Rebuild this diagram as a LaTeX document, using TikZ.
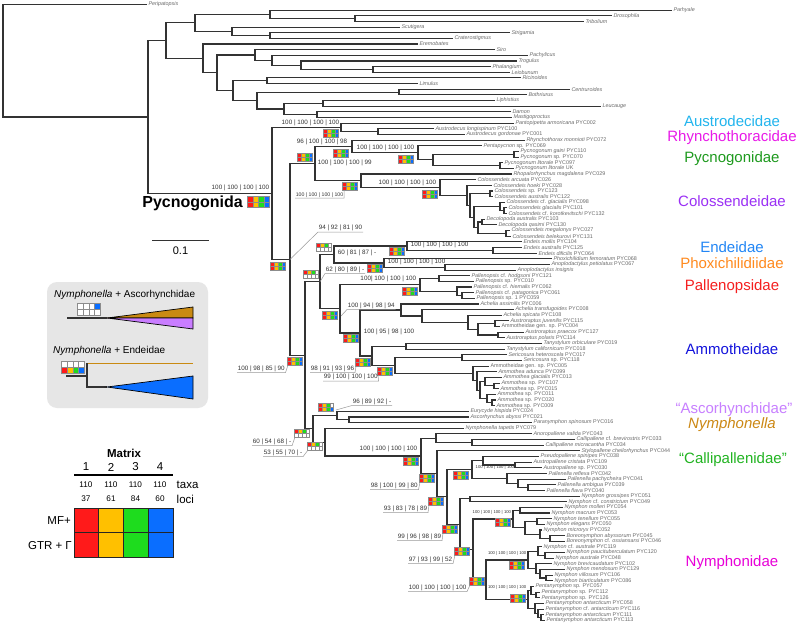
\documentclass[tikz,border=0pt]{standalone}
\usepackage{fontspec}
\setmainfont{Liberation Sans}
\usetikzlibrary{calc}
\definecolor{cR}{HTML}{FF1A1A}
\definecolor{cY}{HTML}{FFC000}
\definecolor{cG}{HTML}{1EDC1E}
\definecolor{cB}{HTML}{0A6EFF}
\definecolor{cW}{HTML}{FFFFFF}
\definecolor{tipgray}{HTML}{6A6A6A}
\definecolor{panelgray}{HTML}{E6E6E6}
\definecolor{nyor}{HTML}{C98A12}
\definecolor{ascp}{HTML}{C97DFF}
\definecolor{fAus}{HTML}{22B5EE}
\definecolor{fRhy}{HTML}{E81BE8}
\definecolor{fPyc}{HTML}{1E9A1E}
\definecolor{fCol}{HTML}{9B30F5}
\definecolor{fEnd}{HTML}{2286F5}
\definecolor{fPho}{HTML}{FF8A1E}
\definecolor{fPal}{HTML}{F52020}
\definecolor{fAmm}{HTML}{1414DC}
\definecolor{fAsc}{HTML}{C880FF}
\definecolor{fNyl}{HTML}{CC8814}
\definecolor{fCal}{HTML}{22B422}
\definecolor{fNym}{HTML}{E800D8}
\tikzset{
 br/.style={draw=black!80, line width=1.1pt},
 tiplab/.style={anchor=west, inner xsep=1.3pt, inner ysep=0pt, text=tipgray, font=\fontsize{5.4}{5.6}\selectfont},
 svt/.style={inner sep=0.6pt, text=black!80, font=\fontsize{6.3}{7}\selectfont},
 svm/.style={inner sep=0.6pt, text=black!80, font=\fontsize{5.2}{6}\selectfont},
 svs/.style={inner sep=0.5pt, text=black!80, font=\fontsize{4.2}{5}\selectfont},
 lead/.style={draw=black!40, line width=0.5pt},
 boxline/.style={draw=black!45, line width=0.3pt},
 fam/.style={font=\fontsize{15}{17}\selectfont, inner sep=0pt},
 legt/.style={font=\fontsize{11.5}{13}\selectfont, inner sep=0pt},
}
\newcommand\tp[4]{\coordinate (#1) at (#3,{4.5+5.65*#2}); \node[tiplab] (L#1) at (#1) {#4};}
\newcommand\nd[4]{\coordinate (m#1) at ($(#3)!.5!(#4)$); \coordinate (#1) at (#2,0 |- m#1); \draw[br] (#3) -| (#1) |- (#4);}
\def\bxs{1}
\newcommand\cbx[9]{\begin{scope}[shift={(#1)},scale=\bxs]
\fill[#2] (0,0) rectangle (3.9,3.9); \fill[#3] (3.9,0) rectangle (7.8,3.9);
\fill[#4] (7.8,0) rectangle (11.7,3.9); \fill[#5] (11.7,0) rectangle (15.6,3.9);
\fill[#6] (0,3.9) rectangle (3.9,7.8); \fill[#7] (3.9,3.9) rectangle (7.8,7.8);
\fill[#8] (7.8,3.9) rectangle (11.7,7.8); \fill[#9] (11.7,3.9) rectangle (15.6,7.8);
\draw[boxline] (0,0) rectangle (15.6,7.8) (3.9,0)--(3.9,7.8) (7.8,0)--(7.8,7.8) (11.7,0)--(11.7,7.8) (0,3.9)--(15.6,3.9);
\end{scope}}
\newcommand\fb[1]{\cbx{#1}{cR}{cY}{cG}{cB}{cR}{cY}{cG}{cB}}
\newcommand\pb[1]{\cbx{#1}{cR}{cY}{cG}{cW}{cW}{cW}{cW}{cW}}
\begin{document}
\begin{tikzpicture}[x=1pt,y=-1pt]
\useasboundingbox (0,0) rectangle (800,623);
\fill[white] (0,0) rectangle (800,623);
% ---------- tips: outgroups
\tp{t0}{0}{147}{\textit{Peripatopsis}}
\tp{t1}{1}{672}{\textit{Parhyale}}
\tp{t2}{2}{612}{\textit{Drosophila}}
\tp{t3}{3}{584}{\textit{Tribolium}}
\tp{t4}{4}{400}{\textit{Scutigera}}
\tp{t5}{5}{510}{\textit{Strigamia}}
\tp{t6}{6}{453}{\textit{Craterostigmus}}
\tp{t7}{7}{418}{\textit{Eremobates}}
\tp{t8}{8}{495}{\textit{Siro}}
\tp{t9}{9}{528}{\textit{Pachylicus}}
\tp{t10}{10}{517}{\textit{Trogulus}}
\tp{t11}{11}{491}{\textit{Phalangium}}
\tp{t12}{12}{510}{\textit{Leiobunum}}
\tp{t13}{13}{521}{\textit{Ricinoides}}
\tp{t14}{14}{418}{\textit{Limulus}}
\tp{t15}{15}{570}{\textit{Centruroides}}
\tp{t16}{16}{527}{\textit{Bothriurus}}
\tp{t17}{17}{495}{\textit{Liphistius}}
\tp{t18}{18}{601}{\textit{Leucauge}}
\tp{t19}{19}{511}{\textit{Damon}}
\tp{t20}{20}{512}{\textit{Mastigoproctus}}
% ---------- tips: Pycnogonida
\tp{t21}{21}{514}{\textit{Pantopipetta armoricana} PYC002}
\tp{t22}{22}{434}{\textit{Austrodecus longispinum} PYC100}
\tp{t23}{23}{465}{\textit{Austrodecus gordonae} PYC001}
\tp{t24}{24}{525}{\textit{Rhynchothorax monnioti} PYC072}
\tp{t25}{25}{482}{\textit{Pentapycnon} sp. PYC069}
\tp{t26}{26}{519}{\textit{Pycnogonum gaini} PYC110}
\tp{t27}{27}{519}{\textit{Pycnogonum} sp. PYC070}
\tp{t28}{28}{503}{\textit{Pycnogonum litorale} PYC097}
\tp{t29}{29}{514}{\textit{Pycnogonum litorale} UK}
\tp{t30}{30}{512}{\textit{Rhopalorhynchus magdalena} PYC029}
\tp{t31}{31}{476}{\textit{Colossendeis arcuata} PYC026}
\tp{t32}{32}{492}{\textit{Colossendeis hoeki} PYC028}
\tp{t33}{33}{493}{\textit{Colossendeis} sp. PYC123}
\tp{t34}{34}{493}{\textit{Colossendeis australis} PYC122}
\tp{t35}{35}{505}{\textit{Colossendeis} cf. \textit{glacialis} PYC098}
\tp{t36}{36}{507}{\textit{Colossendeis glacialis} PYC101}
\tp{t37}{37}{507}{\textit{Colossendeis} cf. \textit{korotkevitschi} PYC132}
\tp{t38}{38}{485}{\textit{Decolopoda australis} PYC103}
\tp{t39}{39}{497}{\textit{Decolopoda qasimi} PYC130}
\tp{t40}{40}{510}{\textit{Colossendeis megalonyx} PYC027}
\tp{t41}{41}{511}{\textit{Colossendeis belekurovi} PYC131}
\tp{t42}{42}{522}{\textit{Endeis mollis} PYC104}
\tp{t43}{43}{522}{\textit{Endeis australis} PYC125}
\tp{t44}{44}{537}{\textit{Endeis dificilis} PYC064}
\tp{t45}{45}{552}{\textit{Phoxichilidium femoratum} PYC068}
\tp{t46}{46}{550}{\textit{Anoplodactylus petiolatus} PYC067}
\tp{t47}{47}{516}{\textit{Anoplodactylus insignis}}
\tp{t48}{48}{470}{\textit{Pallenopsis} cf. \textit{hodgsoni} PYC121}
\tp{t49}{49}{474}{\textit{Pallenopsis} sp. PYC010}
\tp{t50}{50}{472}{\textit{Pallenopsis} cf. \textit{hiemalis} PYC062}
\tp{t51}{51}{474}{\textit{Pallenopsis} cf. \textit{patagonica} PYC061}
\tp{t52}{52}{475}{\textit{Pallenopsis} sp. 1 PYC059}
\tp{t53}{53}{479}{\textit{Achelia assimilis} PYC006}
\tp{t54}{54}{514}{\textit{Achelia transfugoides} PYC008}
\tp{t55}{55}{502}{\textit{Achelia spicata} PYC108}
\tp{t56}{56}{509}{\textit{Austroraptus juvenilis} PYC115}
\tp{t57}{57}{500}{Ammotheidae gen. sp. PYC004}
\tp{t58}{58}{524}{\textit{Austroraptus praecox} PYC127}
\tp{t59}{59}{505}{\textit{Austroraptus polaris} PYC114}
\tp{t60}{60}{542}{\textit{Tanystylum orbiculare} PYC019}
\tp{t61}{61}{505}{\textit{Tanystylum californicum} PYC018}
\tp{t62}{62}{507}{\textit{Sericosura heteroscela} PYC017}
\tp{t63}{63}{522}{\textit{Sericosura} sp. PYC118}
\tp{t64}{64}{489}{Ammotheidae gen. sp. PYC005}
\tp{t65}{65}{497}{\textit{Ammothea adunca} PYC099}
\tp{t66}{66}{502}{\textit{Ammothea glacialis} PYC013}
\tp{t67}{67}{500}{\textit{Ammothea} sp. PYC107}
\tp{t68}{68}{499}{\textit{Ammothea} sp. PYC015}
\tp{t69}{69}{496}{\textit{Ammothea} sp. PYC011}
\tp{t70}{70}{496}{\textit{Ammothea} sp. PYC020}
\tp{t71}{71}{495}{\textit{Ammothea} sp. PYC009}
\tp{t72}{72}{469}{\textit{Eurycyde hispida} PYC024}
\tp{t73}{73}{469}{\textit{Ascorhynchus abyssi} PYC021}
\tp{t74}{74}{532}{\textit{Paranymphon spinosum} PYC016}
\tp{t75}{75}{464}{\textit{Nymphonella tapetis} PYC079}
\tp{t76}{76}{532}{\textit{Anoropallene valida} PYC043}
\tp{t77}{77}{575}{\textit{Callipallene} cf. \textit{brevirostris} PYC033}
\tp{t78}{78}{544}{\textit{Callipallene micracantha} PYC034}
\tp{t79}{79}{580}{\textit{Stylopallene cheilorhynchus} PYC044}
\tp{t80}{80}{539}{\textit{Pseudopallene spinipes} PYC038}
\tp{t81}{81}{532}{\textit{Austropallene cristata} PYC109}
\tp{t82}{82}{542}{\textit{Austropallene} sp. PYC030}
\tp{t83}{83}{547}{\textit{Pallenella reflexa} PYC042}
\tp{t84}{84}{566}{\textit{Pallenella pachycheira} PYC041}
\tp{t85}{85}{556}{\textit{Pallenella ambigua} PYC039}
\tp{t86}{86}{545}{\textit{Pallenella flava} PYC040}
\tp{t87}{87}{580}{\textit{Nymphon grossipes} PYC051}
\tp{t88}{88}{567}{\textit{Nymphon} cf. \textit{constrictum} PYC049}
\tp{t89}{89}{563}{\textit{Nymphon molleri} PYC054}
\tp{t90}{90}{550}{\textit{Nymphon macrum} PYC053}
\tp{t91}{91}{552}{\textit{Nymphon tenellum} PYC055}
\tp{t92}{92}{545}{\textit{Nymphon elegans} PYC050}
\tp{t93}{93}{542}{\textit{Nymphon microryx} PYC052}
\tp{t94}{94}{565}{\textit{Boreonymphon abyssorum} PYC045}
\tp{t95}{95}{565}{\textit{Boreonymphon} cf. \textit{ossiansarsi} PYC046}
\tp{t96}{96}{542}{\textit{Nymphon} cf. \textit{australe} PYC119}
\tp{t97}{97}{565}{\textit{Nymphon paucituberculatum} PYC120}
\tp{t98}{98}{554}{\textit{Nymphon australe} PYC048}
\tp{t99}{99}{552}{\textit{Nymphon brevicaudatum} PYC102}
\tp{t100}{100}{565}{\textit{Nymphon mendosum} PYC129}
\tp{t101}{101}{553}{\textit{Nymphon villosum} PYC106}
\tp{t102}{102}{553}{\textit{Nymphon biarticulatum} PYC086}
\tp{t103}{103}{534}{\textit{Pentanymphon} sp. PYC057}
\tp{t104}{104}{540}{\textit{Pentanymphon} sp. PYC112}
\tp{t105}{105}{540}{\textit{Pentanymphon} sp. PYC126}
\tp{t106}{106}{544}{\textit{Pentanymphon antarcticum} PYC058}
\tp{t107}{107}{544}{\textit{Pentanymphon} cf. \textit{antarcticum} PYC116}
\tp{t108}{108}{544}{\textit{Pentanymphon antarcticum} PYC111}
\tp{t109}{109}{545}{\textit{Pentanymphon antarcticum} PYC113}
% ---------- internal nodes: outgroups
\nd{o1}{355}{t2}{t3}
\nd{o2}{270}{t1}{o1}
\nd{o3}{270}{t5}{t6}
\nd{o4}{232}{t4}{o3}
\nd{o5}{195}{o2}{o4}
\nd{o6}{373}{t11}{t12}
\nd{o7}{301}{t10}{o6}
\nd{o8}{272}{t9}{o7}
\nd{o9}{255}{t8}{o8}
\nd{o10}{267}{t13}{t14}
\nd{o11}{399}{t15}{t16}
\nd{o12}{323}{t17}{t18}
\nd{o13}{317}{t19}{t20}
\nd{o14}{284}{o12}{o13}
\nd{o15}{257}{o11}{o14}
\nd{o16}{233}{o10}{o15}
\nd{o17}{217}{o9}{o16}
\nd{o18}{203}{t7}{o17}
\nd{o19}{166}{o5}{o18}
% ---------- Pycnogonida
\nd{a1}{378}{t22}{t23}
\nd{a2}{341}{t21}{a1}
\nd{b1}{514}{t26}{t27}
\nd{b2}{500}{t28}{t29}
\nd{b3}{433}{b1}{b2}
\nd{b4}{418}{t25}{b3}
\nd{b5}{352}{t24}{b4}
\nd{csa}{490}{t33}{t34}
\nd{cgk}{504}{t36}{t37}
\nd{cgl}{500}{t35}{cgk}
\nd{cd}{482}{t38}{t39}
\nd{cmb}{506}{t40}{t41}
\nd{cdm}{478}{cd}{cmb}
\nd{c4}{474}{cgl}{cdm}
\nd{c3}{470}{csa}{c4}
\nd{c2}{467}{t32}{c3}
\nd{c1}{440}{t31}{c2}
\nd{c0}{361}{t30}{c1}
\nd{b6}{315}{b5}{c0}
\nd{e1}{493}{t43}{t44}
\nd{e2}{407}{t42}{e1}
\nd{f1}{445}{t46}{t47}
\nd{f2}{384}{t45}{f1}
\nd{e3}{334}{e2}{f2}
\nd{g1}{439}{t48}{t49}
\nd{g2}{462}{t51}{t52}
\nd{g3}{457}{t50}{g2}
\nd{g4}{420}{g1}{g3}
\nd{h5}{495}{t56}{t57}
\nd{h6}{498}{t58}{t59}
\nd{h4}{478}{h5}{h6}
\nd{h3}{468}{t55}{h4}
\nd{h2}{422}{t54}{h3}
\nd{h1}{401}{t53}{h2}
\nd{k1}{406}{t60}{t61}
\nd{k2}{462}{t62}{t63}
\nd{m1}{494}{t67}{t68}
\nd{m2}{485}{t66}{m1}
\nd{m3}{492}{t70}{t71}
\nd{m4}{487}{t69}{m3}
\nd{m5}{480}{m2}{m4}
\nd{m6}{477}{t65}{m5}
\nd{m7}{473}{t64}{m6}
\nd{k3}{395}{k2}{m7}
\nd{k4}{372}{k1}{k3}
\nd{h0}{360}{h1}{k4}
\nd{g5}{340}{g4}{h0}
\nd{e4}{320}{e3}{g5}
\nd{q1}{349}{t73}{t74}
\nd{q2}{337}{t72}{q1}
\nd{r1}{472}{t77}{t78}
\nd{r2}{436}{t76}{r1}
\nd{s1}{515}{t81}{t82}
\nd{s2}{483}{t80}{s1}
\nd{s3}{528}{t85}{t86}
\nd{s4}{518}{t84}{s3}
\nd{s5}{507}{t83}{s4}
\nd{s6}{472}{s2}{s5}
\nd{n0}{470}{t87}{t88}
\nd{n1}{520}{t89}{t90}
\nd{n3}{537}{t91}{t92}
\nd{n5}{550}{t94}{t95}
\nd{n4}{540}{t93}{n5}
\nd{n2}{525}{n3}{n4}
\nd{n6}{513}{n1}{n2}
\nd{u1}{545}{t97}{t98}
\nd{u2}{538}{t96}{u1}
\nd{u4}{546}{t101}{t102}
\nd{u3}{540}{t100}{u4}
\nd{u5}{536}{t99}{u3}
\nd{uA}{528}{u2}{u5}
\nd{v2}{536}{t104}{t105}
\nd{v1}{531}{t103}{v2}
\nd{v5}{541}{t108}{t109}
\nd{v4}{538}{t107}{v5}
\nd{v3}{535}{t106}{v4}
\nd{vB}{528}{v1}{v3}
\nd{w1}{486}{uA}{vB}
\nd{w2}{473}{n6}{w1}
\nd{w3}{460}{n0}{w2}
\nd{w4}{447}{s6}{w3}
\nd{w5}{437}{t79}{w4}
\nd{w6}{421}{r2}{w5}
\nd{w7}{325}{t75}{w6}
\nd{w8}{313}{q2}{w7}
\nd{p2}{305}{e4}{w8}
\nd{p1}{290}{b6}{p2}
\nd{p0}{272}{a2}{p1}
\nd{o20}{148}{o19}{p0}
\nd{root}{3}{t0}{o20}
% ---------- support boxes
\def\bxs{1.45}\fb{247,196}\def\bxs{1}
\fb{323,129} \fb{333,149} \fb{297,153} \fb{398,155} \fb{342,182} \fb{422,190}
\fb{270,262} \pb{316,243} \fb{389,247} \fb{367,264} \pb{303,270} \fb{402,287}
\fb{322,311} \fb{343,334} \fb{287,357} \fb{355,358} \fb{377,367}
\cbx{318,403}{cR}{cY}{cG}{cW}{cR}{cY}{cG}{cB}
\pb{294,429} \pb{307,442} \fb{403,457} \fb{419,474} \fb{453,471} \fb{428,497}
\fb{495,518} \fb{442,525} \fb{454,547} \fb{509,561} \fb{469,577} \fb{510,594}
% ---------- support values
\node[svt, anchor=east] (Vp0) at (270,188) {100 | 100 | 100 | 100};
\node[svt, anchor=east] (Va2) at (340,123.3) {100 | 100 | 100 | 100};
\node[svt, anchor=east] (Vb5) at (348,142) {96 | 100 | 100 | 98};
\node[svt, anchor=west] (Vb6) at (317,163) {100 | 100 | 100 | 99};
\node[svt, anchor=east] (Vb4) at (415,148) {100 | 100 | 100 | 100};
\node[svt, anchor=east] (Vc1) at (437,183) {100 | 100 | 100 | 100};
\node[svt, anchor=west] (Ve3) at (337,253) {60 | 81 | 87 | -};
\node[svt, anchor=west] (Ve2) at (410,245) {100 | 100 | 100 | 100};
\node[svt, anchor=west] (Vf2) at (387,262) {100 | 100 | 100 | 100};
\node[svt, anchor=east] (Vg4) at (417,279) {100| 100 | 100 | 100};
\node[svt, anchor=west] (Vh0) at (363,332) {100 | 95 | 98 | 100};
\node[svt, anchor=east] (Vw6) at (418,449) {100 | 100 | 100 | 100};
\node[svs, anchor=west] (Vs6) at (475,467) {100 | 100 | 100 | 100};
\node[svs, anchor=west] (Vn6) at (472,512) {100 | 100 | 100 | 100};
\node[svs, anchor=east] (VuA) at (527,553) {100 | 100 | 100 | 100};
\node[svs, anchor=east] (VvB) at (527,587) {100 | 100 | 100 | 100};
% leader labels
\node[svt, anchor=south west] (Lp1) at (318,232) {94 | 92 | 81 | 90};
\draw[lead] (Lp1.south east) -- (Lp1.south west) -- (p1);
\node[svt, anchor=south west] (Le4) at (325,273.5) {62 | 80 | 89 | -};
\draw[lead] (Le4.south east) -- (Le4.south west) -- (e4);
\node[svt, anchor=south west] (Lg5) at (347,309.5) {100 | 94 | 98 | 94};
\coordinate (Eg5) at (341,316);
\draw[lead] (Lg5.south east) -- (Lg5.south west) -- (Eg5);
\node[svm, anchor=south west] (Lc0) at (295,198) {100 | 100 | 100 | 100};
\coordinate (Ec0) at (344,190);
\draw[lead] (Lc0.south west) -- (Lc0.south east) -- (Ec0);
\node[svt, anchor=south west] (Lp2) at (237,372.5) {100 | 98 | 85 | 90};
\coordinate (Ep2) at (288,365);
\draw[lead] (Lp2.south west) -- (Lp2.south east) -- (Ep2);
\node[svt, anchor=south west] (Lk4) at (310,372.5) {98 | 91 | 93 | 96};
\coordinate (Ek4) at (356,366);
\draw[lead] (Lk4.south west) -- (Lk4.south east) -- (Ek4);
\node[svt, anchor=south west] (Lk3) at (323,381) {99 | 100 | 100 | 100};
\coordinate (Ek3) at (378,375);
\draw[lead] (Lk3.south west) -- (Lk3.south east) -- (Ek3);
\node[svt, anchor=south west] (Lq2) at (352,405.5) {96 | 89 | 92 | -};
\coordinate (Eq2) at (336,410);
\draw[lead] (Lq2.south east) -- (Lq2.south west) -- (Eq2);
\node[svt, anchor=south west] (Lw8) at (252,445.5) {60 | 54 | 68 | -};
\coordinate (Ew8) at (295,437);
\draw[lead] (Lw8.south west) -- (Lw8.south east) -- (Ew8);
\node[svt, anchor=south west] (Lw7) at (263,456.5) {53 | 55 | 70 | -};
\coordinate (Ew7) at (308,450);
\draw[lead] (Lw7.south west) -- (Lw7.south east) -- (Ew7);
\node[svt, anchor=south west] (Lw5) at (370,489.5) {98 | 100 | 99 | 80};
\coordinate (Ew5) at (420,482);
\draw[lead] (Lw5.south west) -- (Lw5.south east) -- (Ew5);
\node[svt, anchor=south west] (Lw4) at (383,512.5) {93 | 83 | 78 | 89};
\coordinate (Ew4) at (429,505);
\draw[lead] (Lw4.south west) -- (Lw4.south east) -- (Ew4);
\node[svt, anchor=south west] (Lw3) at (397,540.5) {99 | 96 | 98 | 89};
\coordinate (Ew3) at (443,533);
\draw[lead] (Lw3.south west) -- (Lw3.south east) -- (Ew3);
\node[svt, anchor=south west] (Lw2) at (408,563.5) {97 | 93 | 99 | 52};
\coordinate (Ew2) at (455,555);
\draw[lead] (Lw2.south west) -- (Lw2.south east) -- (Ew2);
\node[svt, anchor=south west] (Lw1) at (408,591.5) {100 | 100 | 100 | 100};
\coordinate (Ew1) at (470,585);
\draw[lead] (Lw1.south west) -- (Lw1.south east) -- (Ew1);
% ---------- family labels
\node[fam, text=fAus] (FAus) at (732,121) {Austrodecidae};
\node[fam, text=fRhy] (FRhy) at (732,138) {Rhynchothoracidae};
\node[fam, text=fPyc] (FPyc) at (732,159) {Pycnogonidae};
\node[fam, text=fCol] (FCol) at (732,201) {Colossendeidae};
\node[fam, text=fEnd] (FEnd) at (732,247) {Endeidae};
\node[fam, text=fPho] (FPho) at (732,263.5) {Phoxichilidiidae};
\node[fam, text=fPal] (FPal) at (732,287) {Pallenopsidae};
\node[fam, text=fAmm] (FAmm) at (732,349.5) {Ammotheidae};
\node[fam, text=fAsc] (FAsc) at (734,410) {“Ascorhynchidae”};
\node[fam, text=fNyl] (FNyl) at (732,424.5) {\textit{Nymphonella}};
\node[fam, text=fCal] (FCal) at (733,460) {“Callipallenidae”};
\node[fam, text=fNym] (FNym) at (732,563) {Nymphonidae};
% ---------- Pycnogonida label, scale bar
\node[font=\bfseries\fontsize{16}{18}\selectfont, anchor=east, inner sep=0pt] (Pyc) at (243,203) {Pycnogonida};
\coordinate (sb1) at (152,240); \coordinate (sb2) at (209,240);
\draw[draw=black!80, line width=0.9pt] (sb1) -- (sb2);
\node[font=\fontsize{11}{12}\selectfont, inner sep=0pt] (sbl) at (180.5,251) {0.1};
% ---------- legend panel
\fill[panelgray, rounded corners=10pt] (47,282) rectangle (208,408);
\node[font=\fontsize{10}{12}\selectfont, anchor=west, inner sep=0pt] (LA) at (54,295) {\textit{Nymphonella} + Ascorhynchidae};
\def\bxs{1.5}\cbx{77,303}{cW}{cW}{cW}{cB}{cW}{cW}{cW}{cW}\def\bxs{1}
\filldraw[fill=nyor, draw=black, line width=0.7pt] (107,318) -- (193,307) -- (193,318) -- cycle;
\filldraw[fill=ascp, draw=black, line width=0.7pt] (107,318) -- (193,318) -- (193,329) -- cycle;
\draw[br] (67,318) -- (107,318);
\node[font=\fontsize{10}{12}\selectfont, anchor=west, inner sep=0pt] (LB) at (53,351) {\textit{Nymphonella} + Endeidae};
\def\bxs{1.5}\cbx{61,361}{cW}{cW}{cW}{cW}{cR}{cY}{cG}{cB}\def\bxs{1}
\draw[nyor, line width=0.7pt] (87,363) -- (193,363);
\draw[br] (66,376) -- (87,376);
\draw[br] (87,363) -- (87,387) -- (107,387);
\filldraw[fill=cB, draw=black, line width=0.7pt] (107,387) -- (193,376) -- (193,399) -- cycle;
% ---------- matrix legend
\node[legt, font=\bfseries\fontsize{11.5}{13}\selectfont] (Mx) at (124,453) {Matrix};
\node[legt] (M1) at (86,467) {1};
\node[legt] (M2) at (111,467) {2};
\node[legt] (M3) at (135.5,467) {3};
\node[legt] (M4) at (160,467) {4};
\draw[line width=1.3pt] (74,475) -- (173,475);
\node[font=\fontsize{8.2}{9}\selectfont, inner sep=0pt] (T1) at (86,485) {110};
\node[font=\fontsize{8.2}{9}\selectfont, inner sep=0pt] (T2) at (111,485) {110};
\node[font=\fontsize{8.2}{9}\selectfont, inner sep=0pt] (T3) at (135.5,485) {110};
\node[font=\fontsize{8.2}{9}\selectfont, inner sep=0pt] (T4) at (160,485) {110};
\node[font=\fontsize{8.2}{9}\selectfont, inner sep=0pt] (N1) at (86,499) {37};
\node[font=\fontsize{8.2}{9}\selectfont, inner sep=0pt] (N2) at (111,499) {61};
\node[font=\fontsize{8.2}{9}\selectfont, inner sep=0pt] (N3) at (135.5,499) {84};
\node[font=\fontsize{8.2}{9}\selectfont, inner sep=0pt] (N4) at (160,499) {60};
\node[legt, anchor=west] (taxa) at (176.5,485) {taxa};
\node[legt, anchor=west] (loci) at (176.5,499) {loci};
\fill[cR] (74,508) rectangle (98.75,532.5); \fill[cY] (98.75,508) rectangle (123.5,532.5);
\fill[cG] (123.5,508) rectangle (148.25,532.5); \fill[cB] (148.25,508) rectangle (173,532.5);
\fill[cR] (74,532.5) rectangle (98.75,557); \fill[cY] (98.75,532.5) rectangle (123.5,557);
\fill[cG] (123.5,532.5) rectangle (148.25,557); \fill[cB] (148.25,532.5) rectangle (173,557);
\draw[line width=0.9pt, draw=black!85] (74,508) rectangle (173,557) (98.75,508) -- (98.75,557) (123.5,508) -- (123.5,557) (148.25,508) -- (148.25,557) (74,532.5) -- (173,532.5);
\node[legt, anchor=east] (MF) at (71,521) {MF+};
\node[legt, anchor=east] (GTR) at (72,546) {GTR + Γ};
\end{tikzpicture}
\end{document}
